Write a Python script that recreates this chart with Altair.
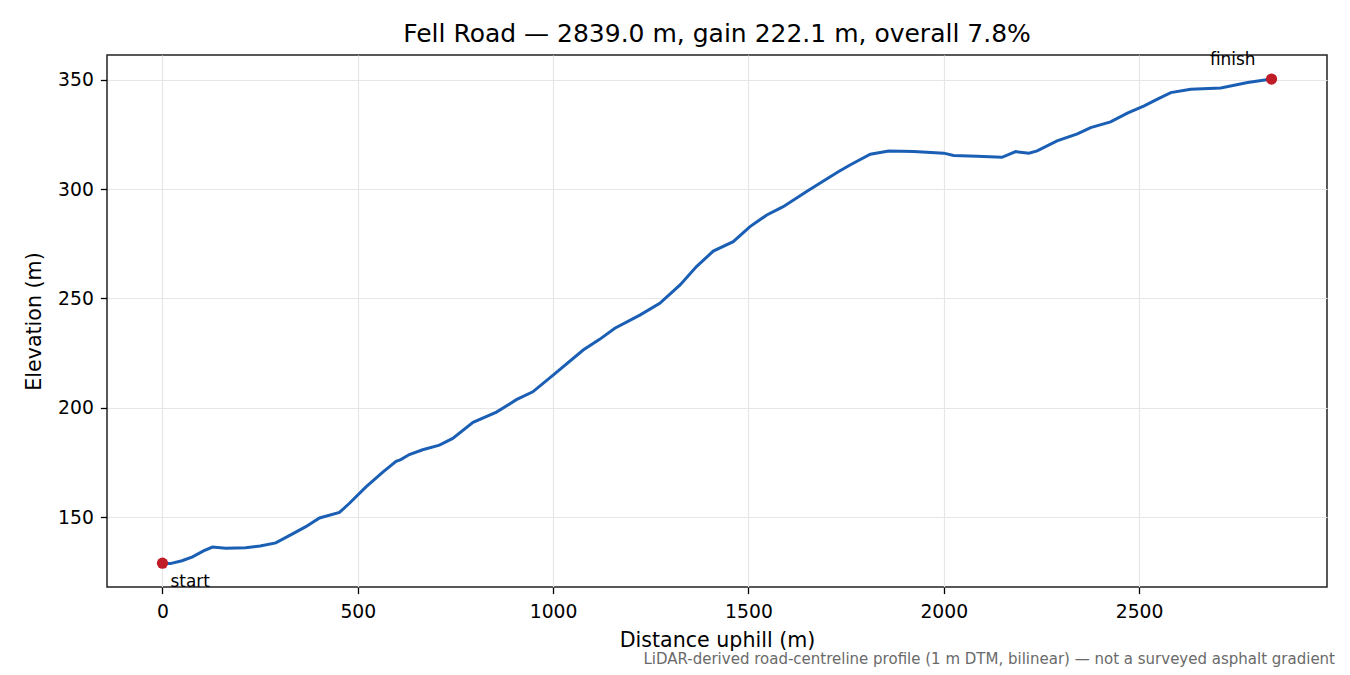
import altair as alt
import pandas as pd

# profile
distance = [0, 20, 50, 77, 105, 128, 162, 213, 250, 290, 333, 367, 402, 453, 478,
            521, 564, 598, 610, 632, 666, 709, 743, 795, 855, 906, 948, 1000, 1077,
            1119, 1158, 1222, 1273, 1325, 1367, 1410, 1461, 1504, 1547, 1589, 1649,
            1696, 1730, 1760, 1812, 1859, 1923, 2000, 2025, 2085, 2149, 2184, 2218,
            2239, 2290, 2342, 2376, 2427, 2470, 2513, 2547, 2581, 2632, 2709, 2778,
            2839]
elevation = [128.9, 128.7, 130.0, 131.8, 134.5, 136.3, 135.7, 136.0, 136.8, 138.2,
             142.3, 145.6, 149.6, 152.1, 156.2, 163.8, 170.6, 175.5, 176.3, 178.6,
             180.8, 182.9, 186.0, 193.3, 198.0, 203.7, 207.3, 214.9, 226.4, 231.3,
             236.4, 242.4, 247.8, 256.2, 264.6, 271.7, 276.0, 282.9, 288.2, 292.0,
             298.9, 304.2, 308.0, 311.1, 316.0, 317.5, 317.2, 316.5, 315.4, 315.1,
             314.6, 317.2, 316.5, 317.5, 322.1, 325.3, 328.2, 330.8, 334.8, 338.1,
             341.2, 344.2, 345.7, 346.3, 348.8, 350.4]

x_ticks = [0, 500, 1000, 1500, 2000, 2500]
y_ticks = [150, 200, 250, 300, 350]
end_labels = ["start", "finish"]

title_text = "Fell Road \u2014 2839.0 m, gain 222.1 m, overall 7.8%"
footer_text = ("LiDAR-derived road-centreline profile (1 m DTM, bilinear) "
               "\u2014 not a surveyed asphalt gradient")

FONT = "DejaVu Sans"
BLUE = "#1a5fb4"
RED = "#c01c28"

df = pd.DataFrame({"distance": distance, "elevation": elevation})
ends = pd.DataFrame({
    "distance": [distance[0], distance[-1]],
    "elevation": [elevation[0], elevation[-1]],
    "label": end_labels,
})
texts = pd.DataFrame({"title": [title_text], "note": [footer_text]})

x_enc = alt.X("distance:Q", title="Distance uphill (m)",
              scale=alt.Scale(domain=[-142, 2981], nice=False, zero=False),
              axis=alt.Axis(values=x_ticks, format="d", titleY=53, titleBaseline="middle"))
y_enc = alt.Y("elevation:Q", title="Elevation (m)",
              scale=alt.Scale(domain=[118.0, 361.4], nice=False, zero=False),
              axis=alt.Axis(values=y_ticks, format="d", titleX=-73, titleBaseline="middle"))

line = alt.Chart(df).mark_line(color=BLUE, strokeWidth=3).encode(x=x_enc, y=y_enc)

dots = alt.Chart(ends).mark_circle(color=RED, size=125, opacity=1).encode(
    x="distance:Q", y="elevation:Q")

start_lbl = alt.Chart(ends).transform_filter(alt.datum.label == "start").mark_text(
    align="left", baseline="middle", dx=8, dy=19, font=FONT, fontSize=16.9, color="black"
).encode(x="distance:Q", y="elevation:Q", text="label:N")

finish_lbl = alt.Chart(ends).transform_filter(alt.datum.label == "finish").mark_text(
    align="right", baseline="middle", dx=-16, dy=-19, font=FONT, fontSize=16.9, color="black"
).encode(x="distance:Q", y="elevation:Q", text="label:N")

# chart title drawn as text above the frame (the title block misplaces with autosize none)
heading = alt.Chart(texts).mark_text(
    align="center", baseline="alphabetic", font=FONT, fontSize=25, color="black"
).encode(text="title:N", x=alt.value(610), y=alt.value(-13))

note = alt.Chart(texts).mark_text(
    align="right", baseline="middle", font=FONT, fontSize=15, color="#6a6a6a"
).encode(text="note:N", x=alt.value(1228), y=alt.value(604))

chart = alt.layer(line, dots, start_lbl, finish_lbl, heading, note).properties(
    width=1220,
    height=532,
    autosize=alt.AutoSizeParams(type="none"),
    padding={"left": 99, "top": 47, "right": 15, "bottom": 80},
).configure(
    background="white",
).configure_axis(
    labelFont=FONT, labelFontSize=18.75, labelColor="black",
    titleFont=FONT, titleFontSize=20.6, titleFontWeight="normal", titleColor="black",
    tickColor="black", tickSize=6.6, tickWidth=1.3, labelPadding=7,
    domain=False, grid=True, gridColor="#e6e6e6", gridWidth=1.2,
).configure_axisX(
    labelPadding=9,
).configure_view(
    stroke="#222222", strokeWidth=1.5,
)

chart.save("out.html", embed_options={"renderer": "svg", "actions": False})
